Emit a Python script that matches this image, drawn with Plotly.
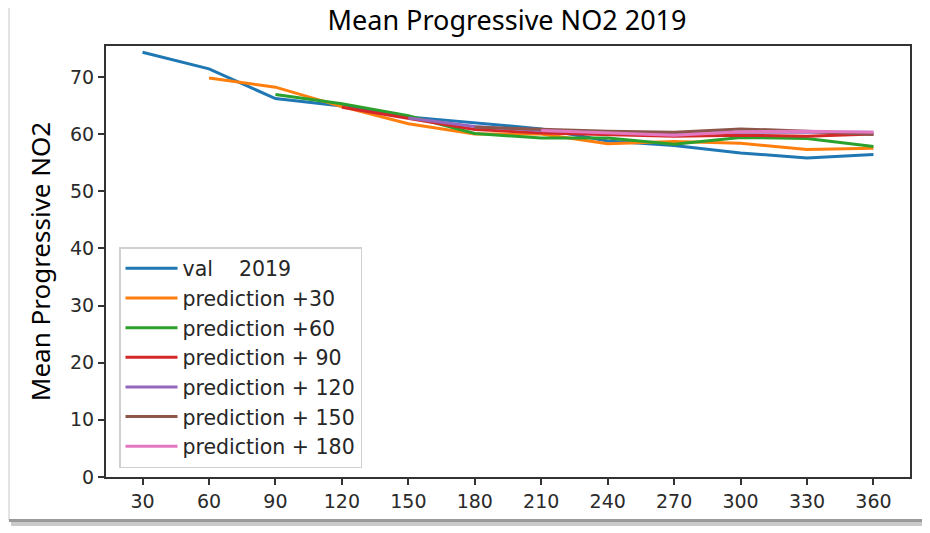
import plotly.graph_objects as go

days = [30, 60, 90, 120, 150, 180, 210, 240, 270, 300, 330, 360]

val_2019 = [74.3, 71.4, 66.2, 64.9, 63.0, 62.0, 60.9, 58.8, 58.0, 56.7, 55.8, 56.4]
pred_30 = [None, 69.8, 68.2, 64.8, 61.8, 60.0, 60.0, 58.3, 58.7, 58.4, 57.3, 57.5]
pred_60 = [None, None, 66.9, 65.3, 63.2, 60.1, 59.3, 59.3, 58.2, 59.4, 59.2, 57.8]
pred_90 = [None, None, None, 64.7, 62.8, 60.8, 60.2, 59.9, 59.6, 59.8, 59.6, 60.0]
pred_120 = [None, None, None, None, 62.8, 61.3, 60.6, 60.3, 60.1, 60.3, 60.3, 60.3]
pred_150 = [None, None, None, None, None, 61.2, 60.8, 60.5, 60.3, 60.9, 60.5, 59.9]
pred_180 = [None, None, None, None, None, None, 60.6, 60.2, 59.8, 60.4, 60.5, 60.3]

series_names = ["val\u00a0\u00a0\u00a0\u00a02019", "prediction +30", "prediction +60",
                "prediction + 90", "prediction + 120", "prediction + 150", "prediction + 180"]
series_values = [val_2019, pred_30, pred_60, pred_90, pred_120, pred_150, pred_180]
colors = ["#1f77b4", "#ff7f0e", "#2ca02c", "#d62728", "#9467bd", "#8c564b", "#e377c2"]

x_ticks = [30, 60, 90, 120, 150, 180, 210, 240, 270, 300, 330, 360]
y_ticks = [0, 10, 20, 30, 40, 50, 60, 70]

fig = go.Figure()
for name, vals, c in zip(series_names, series_values, colors):
    fig.add_trace(go.Scatter(x=days, y=vals, mode="lines", name=name,
                             line=dict(color=c, width=3)))

# page offset of the figure (browser body margin)
OFF = 8
FW, FH = 930 - OFF, 533 - OFF
# plot area in page pixels
L, R, T, B = 106, 910, 46, 477
W, H = R - L, B - T

def px(xp):
    return (xp - L) / W

def py(yp):
    return (B - yp) / H

shapes = [
    dict(type="line", xref="paper", yref="paper", x0=px(923), x1=px(923), y0=py(6), y1=py(520),
         line=dict(color="#d8d8d8", width=2)),
    dict(type="line", xref="paper", yref="paper", x0=px(9), x1=px(9), y0=py(8), y1=py(520),
         line=dict(color="#e4e4e4", width=2)),
    dict(type="rect", xref="paper", yref="paper", x0=px(9), x1=px(926), y0=py(519), y1=py(522),
         line=dict(width=0), fillcolor="#9a9a9a"),
    dict(type="rect", xref="paper", yref="paper", x0=px(11), x1=px(928), y0=py(522), y1=py(526),
         line=dict(width=0), fillcolor="#cacaca"),
]

fig.update_layout(
    width=FW, height=FH,
    margin=dict(l=L - OFF, r=930 - R, t=T - OFF, b=533 - B, autoexpand=False),
    paper_bgcolor="white", plot_bgcolor="white",
    title=dict(text="Mean Progressive NO2 2019", xref="paper", x=px(507), xanchor="center",
               yref="container", y=1 - 3 / FH, yanchor="top", pad=dict(t=0, b=0),
               font=dict(family="Noto Sans", size=27, color="black")),
    xaxis=dict(range=[13.5, 376.5], tickvals=x_ticks, ticks="outside", ticklen=6,
               tickcolor="#333", tickwidth=1.5, showgrid=False, zeroline=False,
               showline=True, linecolor="#333", linewidth=2, mirror=True, automargin=False,
               tickfont=dict(family="DejaVu Sans", size=19, color="#2a2a2a")),
    yaxis=dict(range=[0, 75.4], tickvals=y_ticks, ticks="outside", ticklen=6,
               tickcolor="#333", tickwidth=1.5, showgrid=False, zeroline=False,
               showline=True, linecolor="#333", linewidth=2, mirror=True, automargin=False,
               tickfont=dict(family="DejaVu Sans", size=19, color="#2a2a2a"),
               title=dict(text="Mean Progressive NO2", standoff=12,
                          font=dict(family="Noto Sans", size=26, color="black"))),
    legend=dict(x=px(119), y=py(468), xanchor="left", yanchor="bottom",
                bgcolor="white", bordercolor="#d0d0d0", borderwidth=1.5,
                font=dict(family="DejaVu Sans", size=20.5, color="#262626"),
                itemwidth=52, tracegroupgap=0),
    shapes=shapes,
    showlegend=True,
)

fig.write_html("out.html")
